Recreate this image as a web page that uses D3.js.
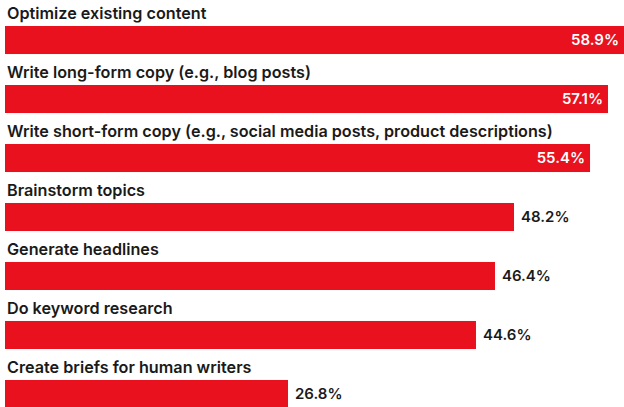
<!DOCTYPE html>
<html>
<head>
<meta charset="utf-8">
<script src="https://cdn.jsdelivr.net/npm/d3@7"></script>
<style>
  html, body { margin: 0; padding: 0; background: #fff; }
  svg { display: block; }
  .cat { font-family: Inter, "Open Sans", sans-serif; font-weight: 600; font-size: 16.2px; fill: #1a1a1a; }
  .val { font-family: Inter, "Open Sans", sans-serif; font-weight: 600; font-size: 15px; }
</style>
</head>
<body>
<svg></svg>
<script>
const categories = [
    "Optimize existing content",
    "Write long-form copy (e.g., blog posts)",
    "Write short-form copy (e.g., social media posts, product descriptions)",
    "Brainstorm topics",
    "Generate headlines",
    "Do keyword research",
    "Create briefs for human writers"
];
const values = [58.9, 57.1, 55.4, 48.2, 46.4, 44.6, 26.8];

const width = 624;
const height = 407;
const red = "#e8111d";

let svg = d3.select("svg").attr("width", width).attr("height", height);

let data = categories.map((c, i) => ({ cat: c, value: values[i] }));

// ~10.56px per percentage point, starting at x=5
let scX = d3.scaleLinear().domain([0, 60]).range([5, 5 + 60 * 10.56]);
let scY = d3.scaleBand().domain(categories).range([26, 408]).paddingInner(0.525).paddingOuter(0);

let rows = svg.selectAll(".row").data(data).enter().append("g").attr("class", "row");

rows.append("rect")
    .attr("x", scX(0))
    .attr("y", d => scY(d.cat))
    .attr("width", d => scX(d.value) - scX(0))
    .attr("height", scY.bandwidth())
    .style("fill", red);

rows.append("text")
    .attr("class", "cat")
    .attr("x", 7)
    .attr("y", d => scY(d.cat) - 7)
    .text(d => d.cat);

// first three labels sit inside the bar (white), the rest outside
rows.append("text")
    .attr("class", "val")
    .attr("x", d => d.value > 50 ? Math.min(scX(d.value), width) - 5 : scX(d.value) + 7)
    .attr("y", d => scY(d.cat) + scY.bandwidth() / 2)
    .attr("dy", "0.36em")
    .attr("text-anchor", d => d.value > 50 ? "end" : "start")
    .style("fill", d => d.value > 50 ? "#fff" : "#1a1a1a")
    .text(d => d.value.toFixed(1) + "%");
</script>
</body>
</html>
